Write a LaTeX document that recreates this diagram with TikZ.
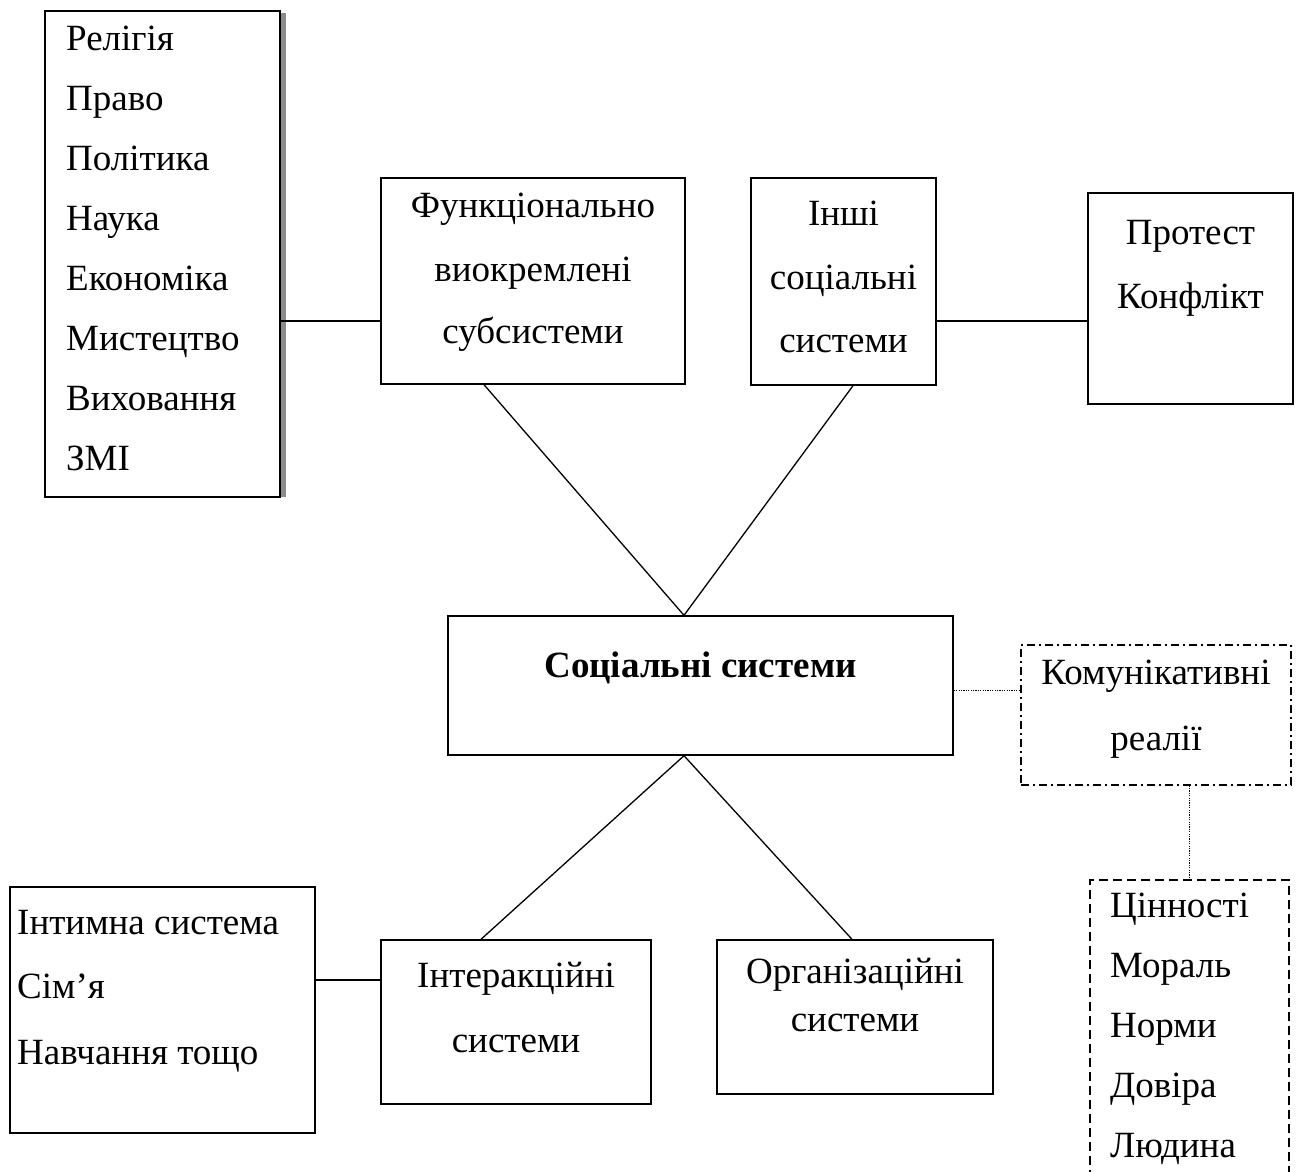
\documentclass[tikz,border=0pt]{standalone}
\usepackage{fontspec}
\setmainfont{Liberation Serif}
\begin{document}
\begin{tikzpicture}[x=1pt,y=-1pt,
  frame/.style={draw, line width=1.4pt, inner sep=0pt, fill=white},
  dashdotframe/.style={draw, line width=1.3pt, inner sep=0pt,
    dash pattern=on 8pt off 4pt on 2pt off 4pt},
  dashframe/.style={draw, line width=1.3pt, inner sep=0pt,
    dash pattern=on 9pt off 5pt},
  link/.style={line width=1.3pt},
  dotlink/.style={line width=1pt, dash pattern=on 1.2pt off 1.2pt},
  txt/.style={font=\fontsize{37}{44}\selectfont, inner sep=0pt},
  btxt/.style={font=\fontsize{37}{44}\selectfont\bfseries, inner sep=0pt}]
\clip (0,0) rectangle (1299,1171);

% list of functional subsystems, with a grey shadow on its right side
\fill[gray!90] (280,13) rectangle (286,497);
\node[frame, minimum width=235, minimum height=486] (list) at (162.5,254) {};
\foreach \t [count=\i] in {Релігія,Право,Політика,Наука,Економіка,Мистецтво,Виховання,ЗМІ}
  \node[txt, anchor=base west] (list\i) at (66,{50+60*(\i-1)}) {\t};

% upper boxes
\node[frame, minimum width=304, minimum height=206] (func) at (533,281) {};
\node[txt, anchor=base] (func1) at (533,217) {Функціонально};
\node[txt, anchor=base] (func2) at (533,281) {виокремлені};
\node[txt, anchor=base] (func3) at (533,343) {субсистеми};

\node[frame, minimum width=185, minimum height=207] (other) at (843.5,281.5) {};
\node[txt, anchor=base] (other1) at (843.5,225) {Інші};
\node[txt, anchor=base] (other2) at (843.5,289) {соціальні};
\node[txt, anchor=base] (other3) at (843.5,352) {системи};

\node[frame, minimum width=205, minimum height=211] (prot) at (1190.5,298.5) {};
\node[txt, anchor=base] (prot1) at (1190.5,244) {Протест};
\node[txt, anchor=base] (prot2) at (1190.5,308) {Конфлікт};

% central box
\node[frame, minimum width=505, minimum height=139] (cen) at (700.5,685.5) {};
\node[btxt, anchor=base] (cen1) at (700.5,677) {Соціальні системи};

% communicative realities
\node[dashdotframe, minimum width=270, minimum height=140] (kom) at (1156,715) {};
\node[txt, anchor=base] (kom1) at (1156,684) {Комунікативні};
\node[txt, anchor=base] (kom2) at (1156,750) {реалії};

\node[dashframe, minimum width=199, minimum height=320] (vals) at (1189.5,1040) {};
\foreach \t [count=\i] in {Цінності,Мораль,Норми,Довіра,Людина}
  \node[txt, anchor=base west] (vals\i) at (1110,{917+60*(\i-1)}) {\t};

% lower boxes
\node[frame, minimum width=305, minimum height=246] (intim) at (162.5,1010) {};
\node[txt, anchor=base west] (intim1) at (17,934) {Інтимна система};
\node[txt, anchor=base west] (intim2) at (17,998) {Сім’я};
\node[txt, anchor=base west] (intim3) at (17,1064) {Навчання тощо};

\node[frame, minimum width=270, minimum height=164] (inter) at (516,1022) {};
\node[txt, anchor=base] (inter1) at (516,987) {Інтеракційні};
\node[txt, anchor=base] (inter2) at (516,1052) {системи};

\node[frame, minimum width=276, minimum height=154] (org) at (855,1017) {};
\node[txt, anchor=base] (org1) at (855,983) {Організаційні};
\node[txt, anchor=base] (org2) at (855,1031) {системи};

% connectors
\coordinate (jl) at ([yshift=-40pt]func.west);
\draw[link] (list.east |- jl) -- (jl);
\coordinate (jr) at ([yshift=-39.5pt]other.east);
\draw[link] (jr) -- (prot.west |- jr);
\coordinate (top) at ([xshift=-16.5pt]cen.north);
\coordinate (bot) at ([xshift=-16.5pt]cen.south);
\draw[link] ([xshift=-49pt]func.south) -- (top) -- ([xshift=9.5pt]other.south);
\draw[link] ([xshift=-35pt]inter.north) -- (bot) -- ([xshift=-3pt]org.north);
\coordinate (ji) at ([yshift=42pt]inter.west);
\draw[link] (intim.east |- ji) -- (ji);
\coordinate (jc) at ([yshift=-4.5pt]cen.east);
\draw[dotlink] (jc) -- (kom.west |- jc);
\draw[dotlink] (kom.south -| vals.north) -- (vals.north);
\end{tikzpicture}
\end{document}
